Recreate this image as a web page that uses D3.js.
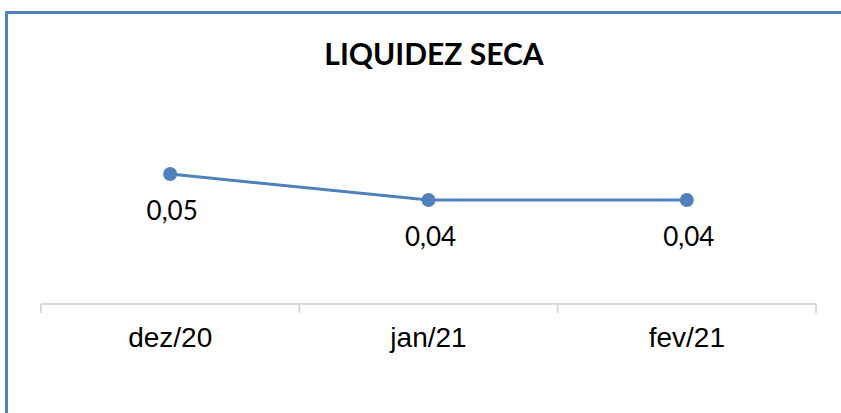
<!DOCTYPE html>
<html>
<head>
<meta charset="utf-8">
<script src="https://cdn.jsdelivr.net/npm/d3@7"></script>
<style>
  body { margin: 0; background: #fff; }
  svg { display: block; font-family: "Lato", "DejaVu Sans", sans-serif; }
</style>
</head>
<body>
<script>
// chart data
var categories = ['dez/20', 'jan/21', 'fev/21']
var values = [0.05, 0.04, 0.04]
var valueLabels = ['0,05', '0,04', '0,04']
var title = 'LIQUIDEZ SECA'

var width = 841, height = 413
var blue = '#4f81bd'

var svg = d3.select('body').append('svg')
  .attr('width', width)
  .attr('height', height)

// chart frame (cut off at the right and bottom)
svg.append('rect')
  .attr('x', 6.5).attr('y', 12.5)
  .attr('width', 860).attr('height', 440)
  .attr('fill', 'none')
  .attr('stroke', blue)
  .attr('stroke-width', 3)

svg.append('text')
  .attr('x', 434).attr('y', 65)
  .attr('text-anchor', 'middle')
  .attr('font-weight', 'bold')
  .attr('font-size', 30)
  .attr('fill', '#000')
  .text(title)

// scales
var xScale = d3.scaleBand().domain(categories).range([41, 816])
var yScale = d3.scaleLinear().domain([0, 0.08]).range([304, 96])

// x axis
var xAxis = d3.axisBottom(xScale).tickSize(0).tickPadding(23)
var gx = svg.append('g')
  .attr('transform', 'translate(0,304)')
  .call(xAxis)
gx.select('.domain').remove()
gx.selectAll('text')
  .attr('font-size', 28)
  .attr('fill', '#000')
  .attr('font-family', 'inherit')

svg.append('line')
  .attr('x1', 41).attr('x2', 816)
  .attr('y1', 304).attr('y2', 304)
  .attr('stroke', '#d9d9d9').attr('stroke-width', 2)

// category separators
var edges = categories.map(function(c) { return xScale(c) }).concat([xScale.range()[1]])
svg.selectAll('.sep').data(edges).enter().append('line')
  .attr('class', 'sep')
  .attr('x1', function(d) { return d }).attr('x2', function(d) { return d })
  .attr('y1', 304).attr('y2', 313)
  .attr('stroke', '#d9d9d9').attr('stroke-width', 2)

// line + markers
var pts = categories.map(function(c, i) {
  return { x: xScale(c) + xScale.bandwidth() / 2, y: yScale(values[i]), label: valueLabels[i] }
})

var lineGenerator = d3.line()
  .x(function(d) { return d.x })
  .y(function(d) { return d.y })

svg.append('path')
  .datum(pts)
  .attr('d', lineGenerator)
  .attr('fill', 'none')
  .attr('stroke', blue)
  .attr('stroke-width', 3)

svg.selectAll('.dot').data(pts).enter().append('circle')
  .attr('class', 'dot')
  .attr('cx', function(d) { return d.x })
  .attr('cy', function(d) { return d.y })
  .attr('r', 7)
  .attr('fill', blue)

svg.selectAll('.lbl').data(pts).enter().append('text')
  .attr('class', 'lbl')
  .attr('x', function(d) { return d.x + 2 })
  .attr('y', function(d) { return d.y + 46 })
  .attr('text-anchor', 'middle')
  .attr('font-size', 26)
  .attr('fill', '#000')
  .text(function(d) { return d.label })
</script>
</body>
</html>
